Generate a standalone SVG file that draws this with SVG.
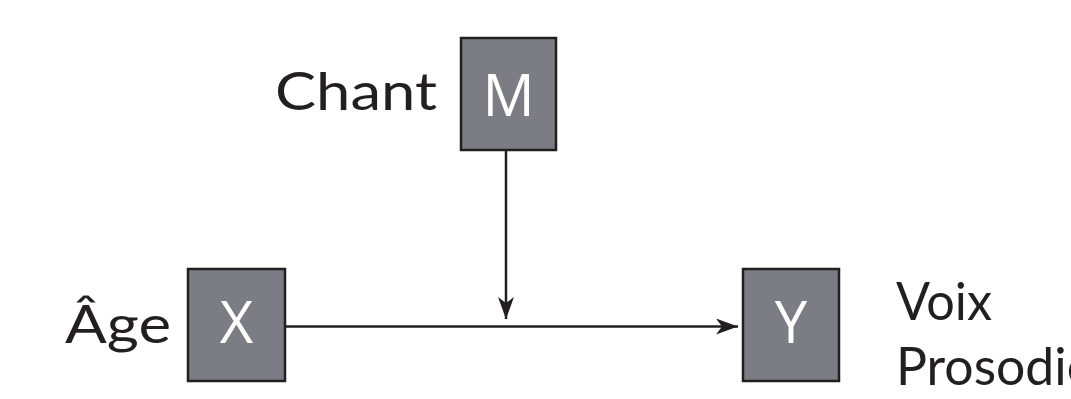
<svg xmlns="http://www.w3.org/2000/svg" width="1071" height="399" viewBox="0 0 1071 399">
  <defs>
    <style>
      .box { fill: #7b7c84; stroke: #231f20; stroke-width: 2.5; }
      .var { font-family: "Open Sans", "Noto Sans", sans-serif; font-size: 58px; fill: #ffffff; text-anchor: middle; }
      .lbl { font-family: Lato, "Open Sans", sans-serif; font-size: 53px; fill: #231f20; }
      .edge { stroke: #231f20; stroke-width: 2.5; fill: none; }
    </style>
    <marker id="arrow" viewBox="0 0 22 16" refX="22" refY="8" markerWidth="22" markerHeight="16" markerUnits="userSpaceOnUse" orient="auto">
      <path d="M0,0 L22,8 L0,16 L6,8 Z" fill="#231f20"/>
    </marker>
  </defs>
  <rect width="1071" height="399" fill="#ffffff"/>

  <g id="connectors">
    <line class="edge" x1="286" y1="326.5" x2="738" y2="326.5" marker-end="url(#arrow)"/>
    <line class="edge" x1="506" y1="151" x2="506" y2="319" marker-end="url(#arrow)"/>
  </g>

  <g id="node-m">
    <rect class="box" x="461" y="38" width="95" height="112"/>
    <text class="var" x="508.5" y="116">M</text>
    <text class="lbl" x="275" y="110" textLength="162" lengthAdjust="spacingAndGlyphs">Chant</text>
  </g>

  <g id="node-x">
    <rect class="box" x="188" y="269" width="97" height="112"/>
    <text class="var" x="236.5" y="343">X</text>
    <text class="lbl" x="65" y="343" textLength="106" lengthAdjust="spacingAndGlyphs">Âge</text>
  </g>

  <g id="node-y">
    <rect class="box" x="743" y="269" width="96" height="112"/>
    <text class="var" x="791" y="343">Y</text>
    <text class="lbl" x="896" y="320" textLength="96" lengthAdjust="spacingAndGlyphs">Voix</text>
    <text class="lbl" x="896" y="385" textLength="198" lengthAdjust="spacingAndGlyphs">Prosodie</text>
  </g>
</svg>
